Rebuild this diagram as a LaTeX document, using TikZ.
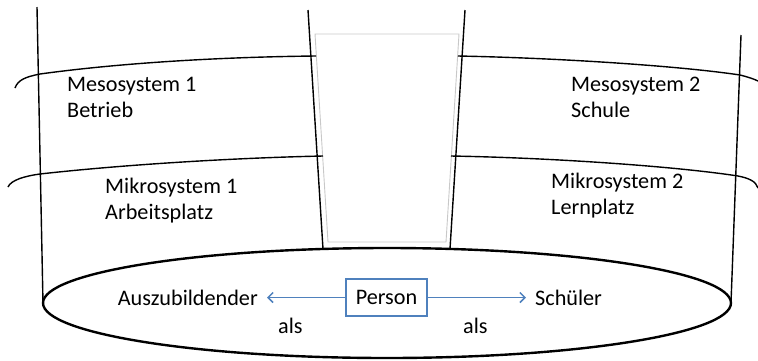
\documentclass[tikz,border=0pt]{standalone}
\usepackage{fontspec}
\setmainfont{Carlito}
\usetikzlibrary{arrows.meta}
\definecolor{accblue}{RGB}{79,129,189}
\definecolor{lightgr}{RGB}{200,200,200}
\tikzset{
  wall/.style={draw=black, line width=1.4pt},
  ring/.style={draw=black, line width=1.4pt},
  lbl/.style={font=\fontsize{22.2}{26}\selectfont, inner sep=0pt, anchor=base west},
  personbox/.style={draw=accblue, line width=1.5pt, font=\fontsize{22.2}{26}\selectfont, minimum width=81pt, minimum height=37pt, inner sep=0pt},
  rolearrow/.style={draw=accblue, line width=1.5pt, -{Straight Barb[length=5pt,width=10pt]}, shorten >=9pt}
}
\begin{document}
\begin{tikzpicture}[x=1pt, y=-1pt]
\useasboundingbox (0,0) rectangle (758,360);
% gray trapezoid
\draw[lightgr, line width=0.9pt] (315,34) -- (459,34) -- (446,242) -- (328,242) -- cycle;
% walls
\coordinate (olt) at (37,7);   \coordinate (olb) at (43,303);
\coordinate (ort) at (741,35); \coordinate (orb) at (731,303);
\coordinate (ilt) at (308,10); \coordinate (ilb) at (323,249);
\coordinate (irt) at (465,10); \coordinate (irb) at (450,249);
\draw[wall] (olt) -- (olb);
\draw[wall] (ort) -- (orb);
\draw[wall] (ilt) -- (ilb);
\draw[wall] (irt) -- (irb);
% rings
\draw[ring] (15,88) .. controls (18,80) and (25,77) .. (40,74) .. controls (120,63) and (220,57) .. (316,56);
\draw[ring] (8,187) .. controls (11,180) and (25,176) .. (40,174) .. controls (120,165) and (230,158) .. (323,156);
\draw[ring] (458,56) .. controls (560,58) and (680,66) .. (740,75) .. controls (748,77) and (754,79) .. (758,81);
\draw[ring] (451,156) .. controls (560,158) and (680,167) .. (738,176) .. controls (748,178) and (756,181) .. (758,188);
% base ellipse
\draw[black, line width=2.4pt] (387,303) ellipse [x radius=344pt, y radius=55pt];
% labels
\node[lbl] (meso1a) at (67,91) {Mesosystem 1};
\node[lbl] (meso1b) at (67,117) {Betrieb};
\node[lbl] (mikro1a) at (105,193) {Mikrosystem 1};
\node[lbl] (mikro1b) at (105,219) {Arbeitsplatz};
\node[lbl] (meso2a) at (571,91) {Mesosystem 2};
\node[lbl] (meso2b) at (571,117) {Schule};
\node[lbl] (mikro2a) at (551,188) {Mikrosystem 2};
\node[lbl] (mikro2b) at (551,214) {Lernplatz};
% person
\node[personbox] (person) at (386.5,297.5) {Person};
\node[lbl, anchor=base east] (azubi) at (258,305) {Auszubildender};
\node[lbl] (schueler) at (535,305) {Schüler};
\node[lbl] (als1) at (278,333) {als};
\node[lbl] (als2) at (463,333) {als};
\draw[rolearrow] (person.west) -- (person.west -| azubi.east);
\draw[rolearrow] (person.east) -- (person.east -| schueler.west);
\end{tikzpicture}
\end{document}
